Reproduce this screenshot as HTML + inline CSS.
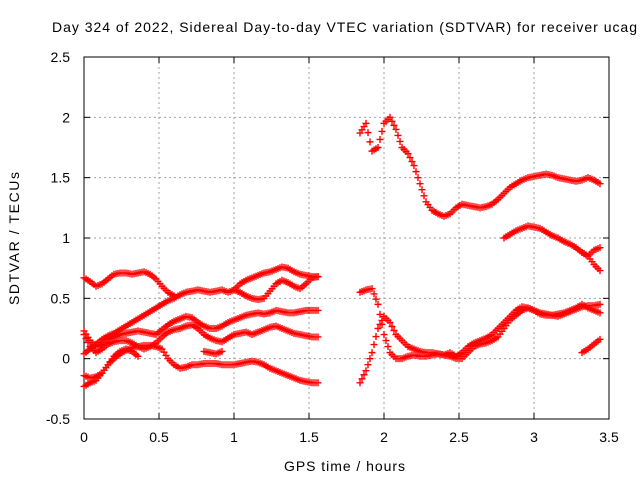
<!DOCTYPE html>
<html><head><meta charset="utf-8"><style>
body{margin:0;background:#fff}
svg{display:block;font-family:"Liberation Sans",sans-serif}
</style></head><body>
<svg id="chart" width="640" height="480">
<rect width="640" height="480" fill="#fff"/>
<text x="52" y="32" font-size="14" textLength="585" lengthAdjust="spacing">Day 324 of 2022, Sidereal Day-to-day VTEC variation (SDTVAR) for receiver ucag</text>
<g id="grid"></g><g id="axes"></g><g id="marks"></g>
<text x="284" y="471" font-size="14" textLength="121" lengthAdjust="spacing">GPS time / hours</text>
<text transform="translate(19,305) rotate(-90)" font-size="14" textLength="133" lengthAdjust="spacing">SDTVAR / TECUs</text>
</svg>
<script>
const xTicks=[0,0.5,1,1.5,2,2.5,3,3.5];
const xTickLabels=["0","0.5","1","1.5","2","2.5","3","3.5"];
const yTicks=[-0.5,0,0.5,1,1.5,2,2.5];
const yTickLabels=["-0.5","0","0.5","1","1.5","2","2.5"];
const trackA=[0.67,0.64,0.6,0.62,0.66,0.7,0.71,0.71,0.7,0.71,0.72,0.7,0.66,0.6,0.55,0.52];
const trackB=[0.04,0.08,0.12,0.16,0.19,0.21,0.24,0.27,0.3,0.33,0.36,0.39,0.42,0.45,0.48,0.5,0.53,0.55,0.56,0.57,0.56,0.55,0.56,0.57,0.55,0.57,0.62,0.65,0.67,0.69,0.71,0.72,0.74,0.76,0.75,0.72,0.7,0.69,0.68,0.68];
const trackB2=[0.57,0.55,0.52,0.5,0.49,0.5,0.56,0.62,0.65,0.63,0.6,0.58,0.62,0.67,0.68];
const trackC=[0.23,0.15,0.1,0.12,0.16,0.18,0.2,0.21,0.22,0.23,0.22,0.21,0.2,0.24,0.28,0.31,0.33,0.35,0.34,0.3,0.27,0.25,0.25,0.27,0.3,0.32,0.34,0.36,0.37,0.38,0.37,0.38,0.4,0.39,0.38,0.38,0.39,0.4,0.4,0.4];
const trackD=[0.2,0.1,0.05,0.08,0.12,0.14,0.15,0.15,0.13,0.1,0.08,0.1,0.13,0.18,0.22,0.24,0.25,0.27,0.28,0.25,0.2,0.17,0.15,0.14,0.17,0.2,0.21,0.22,0.2,0.22,0.24,0.26,0.27,0.25,0.23,0.21,0.2,0.19,0.18,0.18];
const trackE=[-0.14,-0.16,-0.15,-0.12,-0.05,0.0,0.04,0.07,0.09,0.1,0.11,0.11,0.1,0.08,0.0,-0.05,-0.08,-0.07,-0.05,-0.05,-0.04,-0.04,-0.04,-0.05,-0.05,-0.05,-0.04,-0.03,-0.02,-0.03,-0.05,-0.08,-0.1,-0.12,-0.14,-0.16,-0.18,-0.19,-0.2,-0.2];
const trackF=[-0.23,-0.2,-0.18,-0.12,-0.05,0.02,0.06,0.08,0.06,0.02];
const trackG=[0.06,0.05,0.04,0.06];
const trackR1=[1.87,1.95,1.72,1.75,1.95,2.0,1.9,1.75,1.7,1.6,1.45,1.3,1.23,1.2,1.18,1.2,1.25,1.28,1.27,1.26,1.25,1.26,1.28,1.32,1.37,1.42,1.45,1.48,1.5,1.51,1.52,1.53,1.52,1.5,1.49,1.48,1.47,1.48,1.5,1.48,1.45];
const trackR2=[1.0,1.03,1.06,1.08,1.1,1.09,1.08,1.05,1.02,1.0,0.97,0.95,0.92,0.88,0.85,0.9,0.92];
const trackR2b=[0.88,0.85,0.78,0.73];
const trackR3=[0.55,0.57,0.58,0.45,0.2,0.05,0.0,0.0,0.02,0.03,0.02,0.02,0.03,0.04,0.03,0.02,0.0,0.0,0.05,0.1,0.12,0.13,0.15,0.18,0.25,0.32,0.36,0.4,0.42,0.4,0.37,0.36,0.36,0.35,0.37,0.39,0.41,0.43,0.44,0.44,0.45];
const trackR4=[-0.2,-0.1,0.05,0.25,0.35,0.3,0.2,0.15,0.1,0.08,0.06,0.05,0.05,0.04,0.03,0.05,0.02,0.05,0.1,0.13,0.15,0.17,0.2,0.25,0.3,0.35,0.4,0.43,0.42,0.4,0.38,0.37,0.36,0.37,0.38,0.4,0.42,0.45,0.42,0.4,0.38];
const trackR5=[0.05,0.08,0.12,0.16];
const tracks=[[0,trackA],[0,trackB],[1.0,trackB2],[0,trackC],[0,trackD],[0,trackE],[0,trackF],[0.8,trackG],[1.84,trackR1],[2.8,trackR2],[3.32,trackR2b],[1.84,trackR3],[1.84,trackR4],[3.32,trackR5]];
const step=0.04;
const L=84,R=609,T=57,B=419;
const xs=v=>L+(v-0)/3.5*(R-L);
const ys=v=>B-(v+0.5)/3*(B-T);
const NS="http://www.w3.org/2000/svg";
function mk(t,a,p){const e=document.createElementNS(NS,t);for(const k in a)e.setAttribute(k,a[k]);p.appendChild(e);return e;}
const grid=document.getElementById('grid'),axes=document.getElementById('axes'),marks=document.getElementById('marks');
xTicks.forEach((v,i)=>{const x=xs(v);
 if(i>0&&i<xTicks.length-1){const g=mk('line',{x1:x,x2:x,y1:T,y2:B,stroke:'#a0a0a0','stroke-dasharray':'2,3'},grid);
 
 }
 mk('line',{x1:x,x2:x,y1:B,y2:B-6,stroke:'#000'},axes);mk('line',{x1:x,x2:x,y1:T,y2:T+6,stroke:'#000'},axes);
 const t=mk('text',{x:x,y:B+23,'font-size':14,'text-anchor':'middle'},axes);t.textContent=xTickLabels[i];
 
 });
yTicks.forEach((v,i)=>{const y=ys(v);
 if(i>0&&i<yTicks.length-1){const g=mk('line',{x1:L,x2:R,y1:y,y2:y,stroke:'#a0a0a0','stroke-dasharray':'2,3'},grid);
 
 }
 mk('line',{x1:L,x2:L+6,y1:y,y2:y,stroke:'#000'},axes);mk('line',{x1:R,x2:R-6,y1:y,y2:y,stroke:'#000'},axes);
 const t=mk('text',{x:L-14,y:y+5,'font-size':14,'text-anchor':'end'},axes);t.textContent=yTickLabels[i];
 
 });
const fr=mk('rect',{x:L,y:T,width:R-L,height:B-T,fill:'none',stroke:'#000'},axes);


tracks.forEach(([t0,vals],ti)=>{
 const g=mk('path',{stroke:'#f00','stroke-width':1.4,fill:'none'},marks);
 
 
 let d='';
 vals.forEach((v,i)=>{
  const n=(i<vals.length-1)?3:1;
  for(let k=0;k<n;k++){
   const f=k/3;
   const val=(k===0)?v:v+(vals[i+1]-v)*f;
   const x=xs(t0+(i+f)*step),y=ys(val);
   d+=`M${x-3.5},${y}h7M${x},${y-3.5}v7`;
  }
 });
 g.setAttribute('d',d);
});
</script>
</body></html>
